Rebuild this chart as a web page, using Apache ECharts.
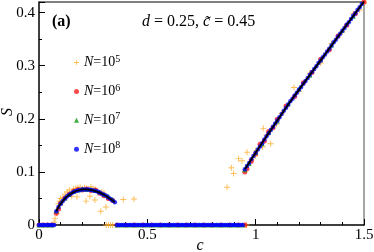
<!DOCTYPE html>
<html>
<head>
<meta charset="utf-8">
<script src="https://cdn.jsdelivr.net/npm/echarts@6/dist/echarts.min.js"></script>
<style>html,body{margin:0;padding:0;background:#fff}#c{width:374px;height:252px}</style>
</head>
<body>
<div id="c"></div>
<script>
// ---- data ----
var xTicks = [0, 0.5, 1, 1.5];
var yTicks = [0, 0.1, 0.2, 0.3, 0.4];
var seriesNames = ['N=10^5', 'N=10^6', 'N=10^7', 'N=10^8'];
var xName = 'c';
var yName = 'S';

// N=10^8 (blue)
var cBlue = [0.00,0.01,0.02,0.03,0.04,0.05,0.06,0.07,
  0.08,0.09,0.10,0.11,0.12,0.13,0.14,0.15,0.16,0.17,0.18,0.19,0.20,0.21,0.22,0.23,0.24,0.25,0.26,0.27,0.28,0.29,0.30,0.31,0.32,0.33,0.34,0.35,
  0.36,0.37,0.38,0.39,0.40,0.41,0.42,0.43,0.44,0.45,0.46,0.47,0.48,0.49,0.50,0.51,0.52,0.53,0.54,0.55,0.56,0.57,0.58,0.59,0.60,0.61,0.62,0.63,0.64,0.65,
  0.66,0.67,0.68,0.69,0.70,0.71,0.72,0.73,0.74,0.75,0.76,0.77,0.78,0.79,0.80,0.81,0.82,0.83,0.84,0.85,0.86,0.87,0.88,0.89,0.90,0.91,0.92,0.93,0.94,
  0.95,0.96,0.97,0.98,0.99,1.00,1.01,1.02,1.03,1.04,1.05,1.06,1.07,1.08,1.09,1.10,1.11,1.12,1.13,1.14,1.15,1.16,1.17,1.18,1.19,1.20,
  1.21,1.22,1.23,1.24,1.25,1.26,1.27,1.28,1.29,1.30,1.31,1.32,1.33,1.34,1.35,1.36,1.37,1.38,1.39,1.40,1.41,1.42,1.43,1.44,1.45,1.46,1.47,1.48,1.49,1.50];
var sBlue = [0,0,0,0,0,0,0,0,
  0.026,0.034,0.040,0.045,0.050,0.054,0.057,0.060,0.062,0.064,0.065,0.066,0.067,0.067,0.067,0.067,0.066,0.065,0.064,0.063,0.061,0.059,0.057,0.055,0.052,0.049,0.046,0.043,
  0,0,0,0,0,0,0,0,0,0,0,0,0,0,0,0,0,0,0,0,0,0,0,0,0,0,0,0,0,0,
  0,0,0,0,0,0,0,0,0,0,0,0,0,0,0,0,0,0,0,0,0,0,0,0,0,0,0,0,0,
  0.105,0.111,0.117,0.124,0.130,0.136,0.142,0.148,0.154,0.161,0.167,0.173,0.179,0.185,0.191,0.197,0.203,0.209,0.215,0.221,0.227,0.233,0.238,0.244,0.249,0.255,
  0.260,0.266,0.271,0.277,0.283,0.288,0.294,0.299,0.305,0.310,0.316,0.321,0.327,0.332,0.338,0.344,0.349,0.355,0.360,0.366,0.371,0.377,0.382,0.388,0.394,0.399,0.405,0.410,0.416,0.421];

// N=10^6 (red)
var cRed = [0.00,0.02,0.04,0.06,
  0.08,0.09,0.10,0.12,0.14,0.16,0.18,0.20,0.22,0.24,0.26,0.28,0.30,0.32,0.34,
  0.36,0.40,0.44,0.48,0.52,0.56,0.60,0.64,0.68,0.72,0.76,0.80,0.84,0.88,0.92,0.95,
  0.95,0.96,0.98,1.00,1.02,1.04,1.06,1.08,1.10,1.14,1.18,1.22,1.26,1.30,1.34,1.38,1.42,1.46,1.50];
var sRed = [0,0,0,0,
  0.022,0.030,0.041,0.051,0.058,0.064,0.067,0.066,0.068,0.065,0.066,0.060,0.055,0.050,0.046,
  0,0,0,0,0,0,0,0,0,0,0,0,0,0,0,0,
  0.100,0.106,0.120,0.134,0.152,0.158,0.176,0.183,0.199,0.224,0.242,0.268,0.287,0.312,0.330,0.356,0.376,0.398,0.420];

// N=10^7 (green)
var cGreen = [0.00,0.02,0.04,0.06,
  0.08,0.10,0.12,0.14,0.16,0.18,0.20,0.22,0.24,0.26,0.28,0.30,0.32,0.34,
  0.36,0.38,0.40,0.42,0.44,0.46,0.48,0.50,0.52,0.54,0.56,0.58,0.60,0.62,0.64,0.66,0.68,0.70,0.72,0.74,0.76,0.78,0.80,0.82,0.84,0.86,0.88,0.90,0.92,0.94,
  0.95,0.97,1.00,1.03,1.06,1.10,1.15,1.20,1.25,1.30,1.35,1.40,1.45,1.50];
var sGreen = [0,0,0,0,
  0.027,0.042,0.051,0.058,0.063,0.066,0.068,0.067,0.067,0.065,0.062,0.058,0.054,0.048,
  0,0,0,0,0,0,0,0,0,0,0,0,0,0,0,0,0,0,0,0,0,0,0,0,0,0,0,0,0,0,
  0.104,0.116,0.137,0.153,0.174,0.196,0.228,0.256,0.282,0.311,0.339,0.367,0.393,0.421];

// N=10^5 (orange)
var cOrange = [0.070,0.074,0.082,0.089,0.095,0.10,0.11,0.12,0.13,0.14,0.151,0.16,0.17,0.175,0.18,0.19,0.20,0.21,0.217,0.22,0.235,0.24,0.25,0.258,0.26,0.27,0.285,0.29,0.30,0.309,
  0.31,0.32,0.33,0.34,0.389,0.438,
  0.868,0.888,0.898,0.921,0.937,0.958,0.96,0.98,0.998,1.00,1.032,1.035,1.05,1.069,1.097,1.12,1.177,1.20,1.25,1.30,1.35,1.40,1.45,1.48,1.50];
var sOrange = [0.005,0.012,0.022,0.040,0.045,0.050,0.052,0.058,0.062,0.066,0.054,0.068,0.069,0.053,0.070,0.071,0.068,0.070,0.045,0.069,0.054,0.072,0.068,0.047,0.067,0.064,0.026,0.062,0.060,0.034,
  0,0,0,0,0.048,0.049,
  0.071,0.108,0.097,0.125,0.121,0,0.137,0.123,0.130,0.140,0.147,0.182,0.169,0.153,0.190,0.210,0.259,0.252,0.286,0.305,0.342,0.364,0.398,0.405,0.418];

// theory (black line)
var cTheoryA = [0.08,0.09,0.10,0.12,0.14,0.16,0.18,0.20,0.22,0.24,0.26,0.28,0.30,0.32,0.34,0.35];
var sTheoryA = [0.026,0.034,0.040,0.050,0.057,0.062,0.065,0.067,0.067,0.066,0.064,0.061,0.057,0.052,0.046,0.043];
var cTheoryB = [0.95,1.00,1.05,1.10,1.15,1.20,1.30,1.40,1.50];
var sTheoryB = [0.105,0.136,0.167,0.197,0.227,0.255,0.310,0.366,0.421];

function pairs(xs, ys) { var o = []; for (var i = 0; i < xs.length; i++) o.push([xs[i], ys[i]]); return o; }

var serif = 'Liberation Serif';
var plusPath = 'path://M-0.8,-5H0.8V-0.8H5V0.8H0.8V5H-0.8V0.8H-5V-0.8H-0.8Z';

var chart = echarts.init(document.getElementById('c'), null, {renderer: 'canvas'});
chart.setOption({
  animation: false,
  backgroundColor: '#fff',
  grid: {left: 39, right: 10, top: 2, bottom: 27, containLabel: false, outerBoundsMode: 'none'},
  legend: {
    data: seriesNames,
    orient: 'vertical',
    left: 69, top: 49,
    itemWidth: 5, itemHeight: 5,
    itemGap: 13.4,
    textStyle: {
      fontFamily: serif, fontSize: 14, color: '#000',
      rich: {
        i: {fontFamily: serif, fontSize: 14, fontStyle: 'italic', color: '#000', lineHeight: 17},
        n: {fontFamily: serif, fontSize: 14, color: '#000', lineHeight: 17},
        s: {fontFamily: serif, fontSize: 10, color: '#000', lineHeight: 9, verticalAlign: 'top'}
      }
    },
    formatter: function (name) { var e = name.split('^')[1]; return '{i|N}{n|=10}{s|' + e + '}'; }
  },
  xAxis: [{
    type: 'value', min: 0, max: 1.5, interval: 0.5,
    axisLine: {show: true, onZero: false, lineStyle: {color: '#000', width: 1.5}},
    axisTick: {show: true, inside: true, length: 6, lineStyle: {color: '#000', width: 1}},
    minorTick: {show: true, splitNumber: 5, length: 3, lineStyle: {color: '#000', width: 1}},
    axisLabel: {fontFamily: serif, fontSize: 15, color: '#000', margin: 3,
      formatter: function (v) { return xTicks.indexOf(v) >= 0 ? String(v) : ''; }},
    splitLine: {show: false}
  }, {
    type: 'value', min: 0, max: 1.5, position: 'top',
    axisLine: {show: true, onZero: false, lineStyle: {color: '#555', width: 1.5}},
    axisTick: {show: false}, axisLabel: {show: false}, splitLine: {show: false}
  }],
  yAxis: [{
    type: 'value', min: 0, max: 0.42, interval: 0.1,
    axisLine: {show: true, onZero: false, lineStyle: {color: '#000', width: 1.5}},
    axisTick: {show: true, inside: true, length: 6, lineStyle: {color: '#000', width: 1}},
    minorTick: {show: true, splitNumber: 2, length: 3, lineStyle: {color: '#000', width: 1}},
    axisLabel: {fontFamily: serif, fontSize: 15, color: '#000', margin: 4, showMaxLabel: false,
      formatter: function (v) { var r = Math.round(v * 10) / 10; return yTicks.indexOf(r) >= 0 && Math.abs(r - v) < 1e-9 ? String(r) : ''; }},
    splitLine: {show: false}
  }, {
    type: 'value', min: 0, max: 0.42, position: 'right',
    axisLine: {show: true, onZero: false, lineStyle: {color: '#888', width: 1.5}},
    axisTick: {show: false}, axisLabel: {show: false}, splitLine: {show: false}
  }],
  series: [
    {name: seriesNames[0], type: 'scatter', data: pairs(cOrange, sOrange), symbol: plusPath, symbolSize: 6,
      itemStyle: {color: '#ffad2a'}, z: 2},
    {name: seriesNames[1], type: 'scatter', data: pairs(cRed, sRed), symbol: 'circle', symbolSize: 5,
      itemStyle: {color: '#ff1a1a'}, z: 3},
    {name: seriesNames[2], type: 'scatter', data: pairs(cGreen, sGreen), symbol: 'triangle', symbolSize: 5,
      itemStyle: {color: '#119911'}, z: 4},
    {name: seriesNames[3], type: 'scatter', data: pairs(cBlue, sBlue), symbol: 'circle', symbolSize: 4.5,
      itemStyle: {color: '#0000ff'}, z: 5},
    {name: 'theory1', type: 'line', data: pairs(cTheoryA, sTheoryA), showSymbol: false, symbol: 'none', smooth: 0.3,
      lineStyle: {color: '#000', width: 1.8}, z: 6},
    {name: 'theory2', type: 'line', data: pairs(cTheoryB, sTheoryB), showSymbol: false, symbol: 'none',
      lineStyle: {color: '#000', width: 1.8}, z: 6}
  ],
  graphic: [
    {type: 'text', left: 52, top: 14, style: {text: '(a)', font: 'bold 16px "Liberation Serif"', fill: '#000'}},
    {type: 'text', left: 142, top: 14, style: {
      text: '{i|d} = 0.25, {i|c\u0303} = 0.45',
      font: '16px "Liberation Serif"', fill: '#000',
      rich: {i: {fontStyle: 'italic', fontFamily: serif, fontSize: 16, fill: '#000'}}
    }},
    {type: 'text', x: 200, y: 246, style: {text: xName, font: 'italic 16px "Liberation Serif"', fill: '#000', align: 'center', verticalAlign: 'middle'}},
    {type: 'text', x: 8, y: 112, rotation: Math.PI / 2, style: {text: yName, font: 'italic 16px "Liberation Serif"', fill: '#000', align: 'center', verticalAlign: 'middle'}}
  ]
});
</script>
</body>
</html>
